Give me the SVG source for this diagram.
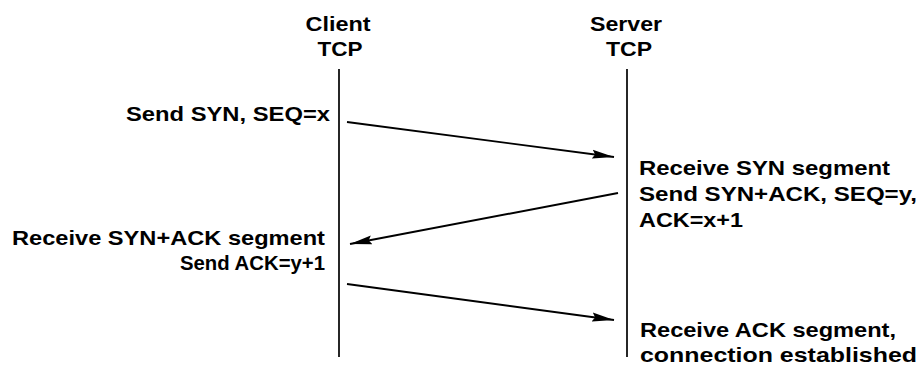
<svg xmlns="http://www.w3.org/2000/svg" width="920" height="366" viewBox="0 0 920 366">
<style>
text { font-family: "Liberation Sans", Arial, sans-serif; font-size: 21px; font-weight: bold; fill: #000; }
.c { text-anchor: middle; }
.r { text-anchor: end; }
.life { stroke: #000; stroke-width: 1.7; fill: none; }
.msg { stroke: #000; stroke-width: 1.9; fill: none; marker-end: url(#ah); }
</style>
<defs>
<marker id="ah" viewBox="0 0 22 10" refX="22" refY="5" markerWidth="22" markerHeight="10" markerUnits="userSpaceOnUse" orient="auto">
<path d="M0,0.5 L22,5 L0,9.5 L3,5 Z" fill="#000"/>
</marker>
</defs>
<rect width="920" height="366" fill="#fff"/>
<g id="client">
<text class="c" x="338" y="31" textLength="65" lengthAdjust="spacingAndGlyphs">Client</text>
<text class="c" x="340" y="56" textLength="45" lengthAdjust="spacingAndGlyphs">TCP</text>
<line class="life" x1="339" y1="69" x2="339" y2="357"/>
</g>
<g id="server">
<text class="c" x="626" y="31" textLength="72" lengthAdjust="spacingAndGlyphs">Server</text>
<text class="c" x="629" y="56" textLength="46" lengthAdjust="spacingAndGlyphs">TCP</text>
<line class="life" x1="627" y1="69" x2="627" y2="357"/>
</g>
<g id="client-send-syn">
<text class="r" x="330" y="121" textLength="204" lengthAdjust="spacingAndGlyphs">Send SYN, SEQ=x</text>
</g>
<g id="server-receive-syn">
<text x="639" y="175" textLength="251" lengthAdjust="spacingAndGlyphs">Receive SYN segment</text>
<text x="639" y="201" textLength="278" lengthAdjust="spacingAndGlyphs">Send SYN+ACK, SEQ=y,</text>
<text x="639" y="227" textLength="104" lengthAdjust="spacingAndGlyphs">ACK=x+1</text>
</g>
<g id="client-receive-synack">
<text class="r" x="325" y="245" textLength="313" lengthAdjust="spacingAndGlyphs">Receive SYN+ACK segment</text>
<text class="r" x="325" y="270" textLength="145" lengthAdjust="spacingAndGlyphs">Send ACK=y+1</text>
</g>
<g id="server-receive-ack">
<text x="640" y="337" textLength="256" lengthAdjust="spacingAndGlyphs">Receive ACK segment,</text>
<text x="640" y="362" textLength="277" lengthAdjust="spacingAndGlyphs">connection established</text>
</g>
<g id="connectors">
<line class="msg" x1="347" y1="122" x2="614" y2="157"/>
<line class="msg" x1="618" y1="193" x2="350" y2="244"/>
<line class="msg" x1="347" y1="284" x2="614" y2="320"/>
</g>
</svg>
